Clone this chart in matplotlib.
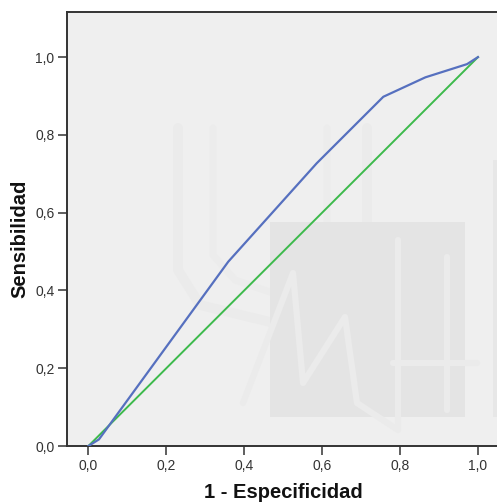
import matplotlib

matplotlib.use("Agg")

import matplotlib.pyplot as plt
from matplotlib.patches import Rectangle
from matplotlib.ticker import FuncFormatter

# ROC curve
fpr = [0.0, 0.027, 0.359, 0.586, 0.757, 0.865, 0.972, 1.0]
tpr = [0.0, 0.017, 0.474, 0.727, 0.898, 0.948, 0.982, 1.0]
ref_x = [0.0, 1.0]
ref_y = [0.0, 1.0]
ticks = [0.0, 0.2, 0.4, 0.6, 0.8, 1.0]

W, H = 497, 504
plt.rcParams["font.family"] = ["Liberation Sans", "DejaVu Sans"]

fig = plt.figure(figsize=(W / 100, H / 100), dpi=100)
ax = fig.add_axes([67 / W, 58 / H, 432 / W, 434 / H])
ax.set_facecolor("#efefef")


def px(x, y):
    # image pixel -> figure fraction
    return x / W, 1 - y / H


# faint logo watermark behind the plot
def wm_line(xs, ys, color, lw, z=0.5):
    pts = [px(x, y) for x, y in zip(xs, ys)]
    line = plt.Line2D([p[0] for p in pts], [p[1] for p in pts], color=color, lw=lw,
                      solid_capstyle="round", solid_joinstyle="round", zorder=z)
    ax.add_artist(line)
    line.set_transform(fig.transFigure)


wm_line([178, 178, 200, 270, 345, 367, 367], [128, 270, 305, 322, 300, 270, 128], "#ebebeb", 7, 0.1)
wm_line([213, 213, 235, 270, 305, 327, 327], [128, 255, 280, 292, 280, 255, 128], "#ececec", 5, 0.1)
rect = Rectangle(px(270, 417), 195 / W, 195 / H, transform=fig.transFigure,
                 facecolor="#e4e4e4", edgecolor="none", zorder=0.2)
ax.add_artist(rect)
side = Rectangle(px(493, 417), 6 / W, 257 / H, transform=fig.transFigure,
                 facecolor="#e7e7e7", edgecolor="none", zorder=0.2)
ax.add_artist(side)
wm_line([243, 293, 303, 345, 357, 398, 398], [403, 273, 383, 317, 403, 430, 240], "#ebebeb", 4.5)
wm_line([393, 477], [363, 363], "#ebebeb", 4.5)
wm_line([447, 447], [257, 410], "#ebebeb", 4.5)

ax.plot(ref_x, ref_y, color="#3dba4c", linewidth=1.4, zorder=3)
ax.plot(fpr, tpr, color="#5670bf", linewidth=1.6, zorder=4)

ax.set_xlim(-0.055, 1.054)
ax.set_ylim(0.0, 1.116)
ax.set_xticks(ticks)
ax.set_yticks(ticks)
comma = FuncFormatter(lambda v, _: f"{v:.1f}".replace(".", ","))
ax.xaxis.set_major_formatter(comma)
ax.yaxis.set_major_formatter(comma)
ax.tick_params(direction="out", length=6.5, width=1.1, color="#333333",
               labelsize=10, labelcolor="#333333", pad=2.5)

for name in ["left", "top", "bottom"]:
    ax.spines[name].set_color("#333333")
    ax.spines[name].set_linewidth(1.4)
ax.spines["right"].set_visible(False)

ax.set_xlabel("1 - Especificidad", fontsize=14.5, fontweight="bold", color="#111111")
ax.set_ylabel("Sensibilidad", fontsize=14.5, fontweight="bold", color="#111111")
ax.xaxis.label.set_va("baseline")
ax.yaxis.label.set_va("baseline")
ax.xaxis.set_label_coords(*px(283, 498), transform=fig.transFigure)
ax.yaxis.set_label_coords(*px(25, 239), transform=fig.transFigure)

fig.savefig("out.png", dpi=100)
plt.close(fig)
